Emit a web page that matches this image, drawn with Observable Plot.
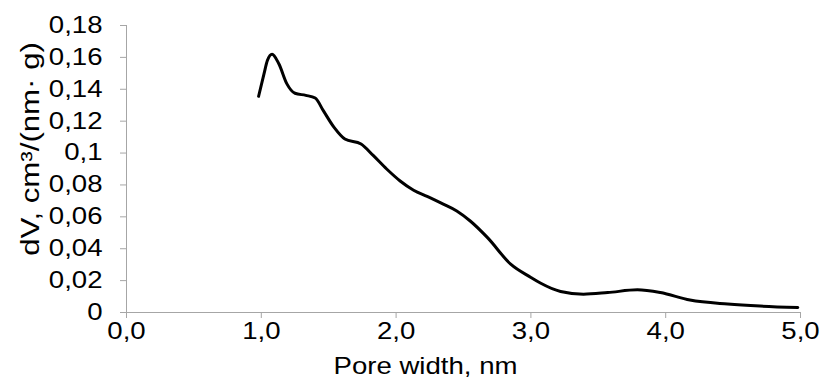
<!DOCTYPE html>
<html>
<head>
<meta charset="utf-8">
<script src="https://cdn.jsdelivr.net/npm/d3@7"></script>
<script src="https://cdn.jsdelivr.net/npm/@observablehq/plot@0.6"></script>
<style>
  html, body { margin: 0; padding: 0; background: #fff; }
  #chart svg { display: block; }
</style>
</head>
<body>
<div id="chart"></div>
<script>
// Pore width (nm)
const poreWidth = [0.98, 1.02, 1.045, 1.08, 1.13, 1.19, 1.25, 1.33, 1.40, 1.46, 1.54, 1.62, 1.74, 1.83, 1.93, 2.03, 2.13, 2.23, 2.35, 2.45, 2.55, 2.68, 2.85, 3.0, 3.07, 3.22, 3.39, 3.57, 3.79, 3.96, 4.18, 4.46, 4.70, 4.98];
// dV, cm3/(nm·g)
const dV = [0.1356, 0.1496, 0.158, 0.162, 0.156, 0.1434, 0.1375, 0.1362, 0.1345, 0.1266, 0.1161, 0.1088, 0.1057, 0.0985, 0.090, 0.0825, 0.0767, 0.0728, 0.068, 0.0637, 0.0574, 0.0468, 0.0303, 0.022, 0.0185, 0.0132, 0.0115, 0.0125, 0.0142, 0.0125, 0.0078, 0.0053, 0.0040, 0.0031];

const xTicks = [0, 1, 2, 3, 4, 5];
const xTickLabels = ["0,0", "1,0", "2,0", "3,0", "4,0", "5,0"];
const yTicks = [0, 0.02, 0.04, 0.06, 0.08, 0.1, 0.12, 0.14, 0.16, 0.18];
const yTickLabels = ["0", "0,02", "0,04", "0,06", "0,08", "0,1", "0,12", "0,14", "0,16", "0,18"];
const xTitle = "Pore width, nm";
const yTitle = "dV, cm³/(nm· g)";

const data = poreWidth.map((x, i) => ({x, y: dV[i]}));
const axisGray = "#a6a6a6";
const stretch = 1.2; // the reference's lettering is horizontally wide

const chart = Plot.plot({
  width: 822,
  height: 382,
  marginLeft: 126,
  marginRight: 22,
  marginTop: 25,
  marginBottom: 70,
  style: {fontFamily: "'Liberation Sans', Arial, sans-serif", fontSize: "23px", color: "#000", background: "#fff"},
  x: {domain: [0, 5]},
  y: {domain: [0, 0.18]},
  marks: [
    Plot.ruleX([0], {stroke: axisGray, strokeWidth: 1}),
    Plot.ruleY([0], {stroke: axisGray, strokeWidth: 1}),
    Plot.axisY({
      ticks: yTicks,
      tickFormat: (d) => yTickLabels[yTicks.indexOf(d)],
      tickSize: 6,
      tickPadding: 18,
      stroke: axisGray,
      fill: "#000",
      fontSize: 23,
      label: null
    }),
    Plot.axisX({
      ticks: xTicks,
      tickFormat: (d) => xTickLabels[xTicks.indexOf(d)],
      tickSize: 6,
      tickPadding: 4,
      stroke: axisGray,
      fill: "#000",
      fontSize: 23,
      label: null
    }),
    Plot.line(data, {x: "x", y: "y", stroke: "#000", strokeWidth: 3, curve: "monotone-x"}),
    Plot.text([xTitle], {frameAnchor: "bottom", dx: -38, dy: 61, fontSize: 23, fill: "#000", ariaLabel: "x-title"}),
    Plot.text([yTitle], {frameAnchor: "left", textAnchor: "middle", dx: -96, dy: -20, rotate: -90, fontSize: 26, fill: "#000", ariaLabel: "y-title"})
  ]
});

// Widen lettering horizontally to match the reference's proportions
chart.querySelectorAll("text").forEach((t) => {
  const g = t.closest("g[aria-label]");
  const label = g ? g.getAttribute("aria-label") : "";
  let tr = t.getAttribute("transform");
  if (!tr) {
    const x = t.getAttribute("x") || 0, y = t.getAttribute("y") || 0;
    t.removeAttribute("x"); t.removeAttribute("y");
    tr = `translate(${x},${y})`;
  }
  if (label === "y-title") t.setAttribute("transform", `${tr} scale(1,1.1)`);
  else t.setAttribute("transform", `${tr} scale(${stretch},1)`);
});
document.getElementById("chart").appendChild(chart);
</script>
</body>
</html>
